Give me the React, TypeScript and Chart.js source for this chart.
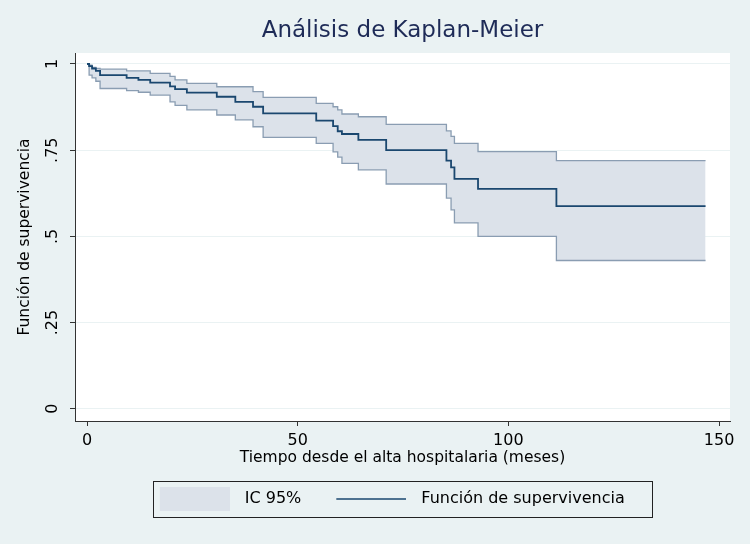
import React, { useEffect, useRef } from "react";
import { Chart, registerables } from "chart.js";

Chart.register(...registerables);

// ---- data ----
const TIMES = [0, 0.5, 1.2, 2.1, 3.1, 9.4, 12.2, 15, 19.7, 20.9, 23.7, 30.8, 35.2, 39.4, 41.8, 54.4, 58.4, 59.5, 60.5, 64.4, 71.0, 85.3, 86.4, 87.2, 92.8, 111.4, 146.8];
const SURVIVAL = [1, 0.994, 0.987, 0.98, 0.968, 0.96, 0.954, 0.946, 0.935, 0.927, 0.917, 0.905, 0.89, 0.876, 0.857, 0.836, 0.82, 0.805, 0.797, 0.78, 0.75, 0.72, 0.70, 0.667, 0.638, 0.588, 0.588];
const CI_UPPER = [1, 0.997, 0.99, 0.987, 0.985, 0.98, 0.98, 0.973, 0.964, 0.954, 0.944, 0.934, 0.934, 0.92, 0.903, 0.886, 0.876, 0.867, 0.855, 0.847, 0.825, 0.806, 0.79, 0.77, 0.746, 0.72, 0.72];
const CI_LOWER = [1, 0.968, 0.96, 0.95, 0.929, 0.923, 0.918, 0.91, 0.89, 0.88, 0.867, 0.852, 0.838, 0.818, 0.787, 0.77, 0.745, 0.73, 0.712, 0.693, 0.652, 0.611, 0.577, 0.539, 0.5, 0.43, 0.43];

const X_TICKS = [0, 50, 100, 150];
const Y_TICKS = [0, 0.25, 0.5, 0.75, 1];
const Y_TICK_LABELS = ["0", ".25", ".5", ".75", "1"];

const TITLE = "Análisis de Kaplan-Meier";
const X_TITLE = "Tiempo desde el alta hospitalaria (meses)";
const Y_TITLE = "Función de supervivencia";
const LEGEND_LABELS = ["IC 95%", "Función de supervivencia"];

// ---- styles ----
const FONT = "'DejaVu Sans', 'Liberation Sans', sans-serif";
const BG = "#EAF2F3";
const NAVY = "#1A476F";
const CI_FILL = "#DCE2EA";
const CI_LINE = "#8A9DB2";
const TITLE_COLOR = "#1E2B57";
const AXIS_COLOR = "#333333";
const LEGEND_SHIFT = -17.75;

const toPoints = (ys: number[]) => TIMES.map((t, i) => ({ x: t, y: ys[i] }));

function makeSwatch(kind: "fill" | "line"): HTMLCanvasElement {
  const c = document.createElement("canvas");
  c.width = 78;
  c.height = 24;
  const ctx = c.getContext("2d")!;
  if (kind === "fill") {
    ctx.fillStyle = CI_FILL;
    ctx.fillRect(8, 0, 70, 24);
  } else {
    ctx.strokeStyle = NAVY;
    ctx.lineWidth = 1.5;
    ctx.beginPath();
    ctx.moveTo(8, 12);
    ctx.lineTo(78, 12);
    ctx.stroke();
  }
  return c;
}

const backgroundPlugin = {
  id: "stataBackground",
  beforeDraw(chart: any) {
    const { ctx, chartArea } = chart;
    ctx.save();
    ctx.fillStyle = BG;
    ctx.fillRect(0, 0, chart.width, chart.height);
    ctx.fillStyle = "#FFFFFF";
    ctx.fillRect(chartArea.left, chartArea.top, chartArea.right - chartArea.left, chartArea.bottom - chartArea.top);
    ctx.restore();
  },
};

const legendShiftPlugin = {
  id: "legendShift",
  afterLayout(chart: any) {
    if (chart.legend) {
      chart.legend.left += LEGEND_SHIFT;
      chart.legend.right += LEGEND_SHIFT;
    }
  },
};

const legendBorderPlugin = {
  id: "legendBorder",
  afterDraw(chart: any) {
    const lg = chart.legend;
    if (!lg || !lg.legendHitBoxes || lg.legendHitBoxes.length < 2) return;
    const hb = lg.legendHitBoxes;
    const first = hb[0];
    const last = hb[hb.length - 1];
    const left = first.left + 8;
    const right = last.left + last.width + 27.5;
    const top = first.top - 10;
    const { ctx } = chart;
    ctx.save();
    ctx.strokeStyle = "#222222";
    ctx.lineWidth = 1;
    ctx.strokeRect(Math.round(left) + 0.5, Math.round(top) + 0.5, Math.round(right - left), 36);
    ctx.restore();
  },
};

export default function App() {
  const canvasRef = useRef<HTMLCanvasElement | null>(null);

  useEffect(() => {
    document.body.style.margin = "0";
    const canvas = canvasRef.current;
    if (!canvas) return;
    const swatchFill = makeSwatch("fill");
    const swatchLine = makeSwatch("line");

    const chart = new Chart(canvas, {
      type: "line",
      data: {
        datasets: [
          {
            label: LEGEND_LABELS[1],
            data: toPoints(SURVIVAL),
            borderColor: NAVY,
            borderWidth: 1.8,
            stepped: "before",
            pointRadius: 0,
            fill: false,
          },
          {
            label: "upper",
            data: toPoints(CI_UPPER),
            borderColor: CI_LINE,
            borderWidth: 1.3,
            backgroundColor: CI_FILL,
            stepped: "before",
            pointRadius: 0,
            fill: "+1",
          },
          {
            label: "lower",
            data: toPoints(CI_LOWER),
            borderColor: CI_LINE,
            borderWidth: 1.3,
            stepped: "before",
            pointRadius: 0,
            fill: false,
          },
        ],
      } as any,
      options: {
        animation: false,
        responsive: false,
        events: [],
        layout: { padding: { left: 8, right: 20, top: 0, bottom: 27 } },
        scales: {
          x: {
            type: "linear",
            min: -2.85,
            max: 152.6,
            afterBuildTicks: (axis: any) => {
              axis.ticks = X_TICKS.map((value) => ({ value }));
            },
            ticks: {
              color: "#000",
              font: { family: FONT, size: 16, lineHeight: 1.0 },
              padding: 7,
              maxRotation: 0,
              callback: (v: any) => String(v),
            },
            grid: {
              display: true,
              drawOnChartArea: false,
              drawTicks: true,
              tickLength: 5,
              tickColor: AXIS_COLOR,
            },
            border: { display: true, color: AXIS_COLOR, width: 1 },
            title: {
              display: true,
              text: X_TITLE,
              color: "#000",
              font: { family: FONT, size: 15.5, lineHeight: 1.0 },
              padding: { top: -6.25, bottom: 5.75 },
            },
          },
          y: {
            type: "linear",
            min: -0.0355,
            max: 1.0319,
            afterBuildTicks: (axis: any) => {
              axis.ticks = Y_TICKS.map((value) => ({ value }));
            },
            ticks: {
              color: "#000",
              font: { family: FONT, size: 16, lineHeight: 1.2 },
              padding: 4,
              minRotation: 90,
              maxRotation: 90,
              crossAlign: "center",
              callback: (v: any) => {
                const i = Y_TICKS.indexOf(Number(v));
                return i >= 0 ? Y_TICK_LABELS[i] : "";
              },
            },
            grid: {
              display: true,
              drawOnChartArea: true,
              color: BG,
              lineWidth: 1,
              drawTicks: true,
              tickLength: 5,
              tickColor: AXIS_COLOR,
            },
            border: { display: true, color: AXIS_COLOR, width: 1 },
            title: {
              display: true,
              text: Y_TITLE,
              color: "#000",
              font: { family: FONT, size: 15.5, lineHeight: 1.2 },
              padding: { top: 7.2, bottom: 9 },
            },
          },
        },
        plugins: {
          filler: { drawTime: "beforeDatasetsDraw" },
          tooltip: { enabled: false },
          title: {
            display: true,
            text: TITLE,
            color: TITLE_COLOR,
            fullSize: false,
            font: { family: FONT, size: 23, weight: "normal", lineHeight: 1.2 },
            padding: { top: 17.7, bottom: 7.7 },
          },
          legend: {
            display: true,
            position: "bottom",
            fullSize: false,
            onClick: () => {},
            labels: {
              usePointStyle: true,
              pointStyleWidth: 92,
              padding: 20,
              color: "#000",
              font: { family: FONT, size: 16 },
              generateLabels: () => [
                {
                  text: LEGEND_LABELS[0],
                  pointStyle: swatchFill,
                  fillStyle: CI_FILL,
                  strokeStyle: CI_FILL,
                  lineWidth: 0,
                  hidden: false,
                  datasetIndex: 1,
                  fontColor: "#000",
                },
                {
                  text: LEGEND_LABELS[1],
                  pointStyle: swatchLine,
                  fillStyle: NAVY,
                  strokeStyle: NAVY,
                  lineWidth: 0,
                  hidden: false,
                  datasetIndex: 0,
                  fontColor: "#000",
                },
              ],
            },
          },
        },
      } as any,
      plugins: [backgroundPlugin, legendShiftPlugin, legendBorderPlugin],
    });

    return () => {
      chart.destroy();
    };
  }, []);

  return (
    <div style={{ position: "absolute", left: 0, top: 0, width: 750, height: 544, background: BG }}>
      <canvas ref={canvasRef} width={750} height={544} />
    </div>
  );
}
